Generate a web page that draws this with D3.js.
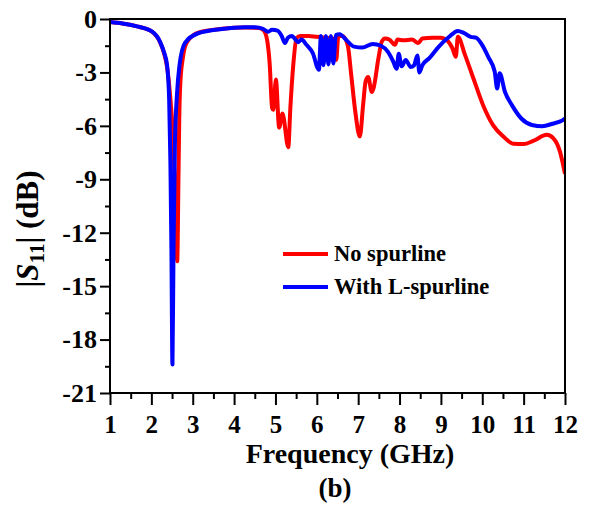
<!DOCTYPE html>
<html>
<head>
<meta charset="utf-8">
<script src="https://cdnjs.cloudflare.com/ajax/libs/d3/7.8.5/d3.min.js"></script>
<style>
  body { margin: 0; background: #fff; }
  svg text { font-family: "Liberation Serif", "Times New Roman", serif; font-weight: bold; }
</style>
</head>
<body>
<svg id="chart"></svg>
<script>
// S11 values (GHz, dB)
const BLUE_F = [1.00, 1.30, 1.68, 2.02, 2.21, 2.31, 2.38, 2.43, 2.46, 2.485, 2.51, 2.535, 2.57, 2.62, 2.68, 2.81, 3.13, 3.71, 4.26, 4.50,
    4.70, 4.82, 4.92, 5.05, 5.15, 5.23, 5.30, 5.40, 5.48, 5.55, 5.63, 5.75, 5.90, 6.05, 6.10, 6.16, 6.22, 6.28, 6.34, 6.40, 6.46,
    6.55, 6.70, 6.90, 7.10, 7.35, 7.55, 7.72, 7.85, 7.93, 7.98, 8.05, 8.15, 8.27, 8.35, 8.43, 8.48, 8.55, 8.72, 8.95, 9.20, 9.41,
    9.55, 9.72, 9.85, 9.98, 10.15, 10.30, 10.36, 10.42, 10.55, 10.72, 10.95, 11.20, 11.45, 11.70, 11.95, 12.00];
const BLUE_DB = [-0.17, -0.25, -0.43, -0.71, -1.28, -1.9, -2.6, -4.5, -8, -13, -19.4, -13, -7, -4.2, -2.6, -1.35, -0.8, -0.56, -0.47, -0.47,
    -0.55, -0.72, -0.6, -0.65, -0.95, -1.35, -1.05, -0.95, -1.15, -1.3, -1.15, -1.45, -1.9, -2.85, -0.95, -2.6, -0.95, -2.55, -0.95, -2.5, -0.9,
    -0.85, -1.15, -1.55, -1.6, -1.4, -1.5, -1.85, -2.4, -2.8, -1.95, -2.65, -2.3, -2.7, -2.6, -2.05, -3.0, -2.6, -2.2, -1.55, -1.0, -0.67,
    -0.78, -1.0, -1.05, -1.4, -2.15, -2.95, -3.9, -3.05, -4.1, -4.85, -5.6, -5.95, -6.02, -5.88, -5.68, -5.6];

const RED_F = [1.00, 1.30, 1.68, 2.02, 2.21, 2.31, 2.38, 2.45, 2.52, 2.58, 2.625, 2.655, 2.675, 2.70, 2.76, 2.86, 3.15, 3.71, 4.26, 4.60,
    4.72, 4.80, 4.86, 4.92, 4.95, 5.01, 5.09, 5.17, 5.31, 5.36, 5.43, 5.51, 5.60, 5.80, 6.00, 6.20, 6.40, 6.47, 6.52, 6.62,
    6.75, 6.83, 6.93, 7.04, 7.12, 7.18, 7.24, 7.33, 7.37, 7.49, 7.57, 7.65, 7.75, 7.89, 7.95, 8.10, 8.30, 8.45, 8.55, 8.80,
    9.00, 9.14, 9.28, 9.36, 9.41, 9.58, 9.78, 10.02, 10.26, 10.51, 10.75, 11.00, 11.23, 11.56, 11.72, 11.88, 12.00];
const RED_DB = [-0.17, -0.25, -0.43, -0.72, -1.3, -1.95, -2.7, -4.2, -6.5, -10, -13.6, -9, -5.5, -3.6, -2.2, -1.3, -0.75, -0.55, -0.48, -0.5,
    -0.65, -1.2, -2.5, -5.0, -5.1, -3.4, -6.1, -5.3, -7.2, -5.0, -2.6, -1.07, -0.95, -0.95, -1.0, -1.05, -1.1, -2.3, -0.95, -0.95,
    -1.5, -3.1, -5.2, -6.6, -4.8, -3.5, -3.25, -4.1, -3.9, -2.2, -1.27, -1.09, -1.15, -1.45, -1.15, -1.2, -1.15, -1.35, -1.1, -1.05,
    -1.05, -1.18, -1.65, -2.12, -1.0, -2.0, -3.3, -4.84, -5.96, -6.6, -7.0, -7.02, -6.85, -6.5, -6.7, -7.46, -8.7];

const X_TICKS = [1, 2, 3, 4, 5, 6, 7, 8, 9, 10, 11, 12];
const Y_TICKS = [0, -3, -6, -9, -12, -15, -18, -21];
const SERIES_NAMES = ["No spurline", "With L-spurline"];

const WIDTH = 590;
const HEIGHT = 506;
const LEFT = 110, RIGHT = 565, TOP = 19, BOTTOM = 393;

let svg = d3.select("#chart")
    .attr("width", WIDTH)
    .attr("height", HEIGHT);

let xScale = d3.scaleLinear().domain([1, 12]).range([LEFT, RIGHT]);
let yScale = d3.scaleLinear().domain([0, -21]).range([TOP, BOTTOM]);

// minor ticks
let xMinor = d3.range(1.5, 12, 1);
let yMinor = d3.range(-1.5, -21, -3);

svg.append("g")
    .attr("transform", "translate(0," + BOTTOM + ")")
    .call(d3.axisBottom(xScale).tickValues(xMinor).tickSize(6).tickFormat(""))
    .call(g => g.select(".domain").remove())
    .selectAll("line").attr("stroke-width", 2);

svg.append("g")
    .attr("transform", "translate(" + LEFT + ",0)")
    .call(d3.axisLeft(yScale).tickValues(yMinor).tickSize(5).tickFormat(""))
    .call(g => g.select(".domain").remove())
    .selectAll("line").attr("stroke-width", 2);

let xAxis = svg.append("g")
    .attr("transform", "translate(0," + BOTTOM + ")")
    .call(d3.axisBottom(xScale).tickValues(X_TICKS).tickSize(12).tickPadding(10).tickSizeOuter(0));
xAxis.select(".domain").remove();
xAxis.selectAll("line").attr("stroke-width", 2);
xAxis.selectAll("text").attr("font-size", "25px").attr("fill", "#000")
    .style("font-family", "'Liberation Serif', 'Times New Roman', serif").style("font-weight", "bold");

let yAxis = svg.append("g")
    .attr("transform", "translate(" + LEFT + ",0)")
    .call(d3.axisLeft(yScale).tickValues(Y_TICKS).tickSize(10).tickPadding(3).tickSizeOuter(0)
        .tickFormat(function(d) { return String(d); }));
yAxis.select(".domain").remove();
yAxis.selectAll("line").attr("stroke-width", 2);
yAxis.selectAll("text").attr("font-size", "26px").attr("fill", "#000")
    .style("font-family", "'Liberation Serif', 'Times New Roman', serif").style("font-weight", "bold");

// curves
svg.append("clipPath").attr("id", "clip")
    .append("rect")
    .attr("x", LEFT).attr("y", TOP)
    .attr("width", RIGHT - LEFT).attr("height", BOTTOM - TOP);

let line = d3.line()
    .x(function(d) { return xScale(d[0]); })
    .y(function(d) { return yScale(d[1]); })
    .curve(d3.curveMonotoneX);

let redData = RED_F.map(function(f, i) { return [f, RED_DB[i]]; });
let blueData = BLUE_F.map(function(f, i) { return [f, BLUE_DB[i]]; });

let plot = svg.append("g").attr("clip-path", "url(#clip)");
plot.append("path")
    .datum(redData)
    .attr("d", line)
    .attr("fill", "none")
    .attr("stroke", "#ff0000")
    .attr("stroke-width", 4)
    .attr("stroke-linejoin", "round");
plot.append("path")
    .datum(blueData)
    .attr("d", line)
    .attr("fill", "none")
    .attr("stroke", "#0000ff")
    .attr("stroke-width", 4)
    .attr("stroke-linejoin", "round");

// frame
svg.append("rect")
    .attr("x", LEFT).attr("y", TOP)
    .attr("width", RIGHT - LEFT).attr("height", BOTTOM - TOP)
    .attr("fill", "none")
    .attr("stroke", "#000")
    .attr("stroke-width", 2);

// legend
let legendColors = ["#ff0000", "#0000ff"];
let legend = svg.selectAll("g.legend")
    .data(SERIES_NAMES)
    .enter()
    .append("g")
    .attr("class", "legend")
    .attr("transform", function(d, i) { return "translate(283," + (254 + i * 33) + ")"; });
legend.append("line")
    .attr("x1", 0).attr("x2", 45)
    .attr("y1", 0).attr("y2", 0)
    .attr("stroke", function(d, i) { return legendColors[i]; })
    .attr("stroke-width", 4);
legend.append("text")
    .attr("x", 51)
    .attr("y", 7)
    .attr("font-size", "22.5px")
    .text(function(d) { return d; });

// axis titles
svg.append("text")
    .attr("x", 350)
    .attr("y", 463)
    .attr("text-anchor", "middle")
    .attr("font-size", "28px")
    .text("Frequency (GHz)");

svg.append("text")
    .attr("x", 335)
    .attr("y", 497)
    .attr("text-anchor", "middle")
    .attr("font-size", "27px")
    .text("(b)");

let yLabel = svg.append("text")
    .attr("transform", "translate(38,229) rotate(-90)")
    .attr("text-anchor", "middle")
    .attr("font-size", "31px");
yLabel.append("tspan").text("|");
yLabel.append("tspan").attr("font-style", "italic").text("S");
yLabel.append("tspan").attr("font-size", "21px").attr("dy", 6).text("11");
yLabel.append("tspan").attr("dy", -6).text("| (dB)");
</script>
</body>
</html>
